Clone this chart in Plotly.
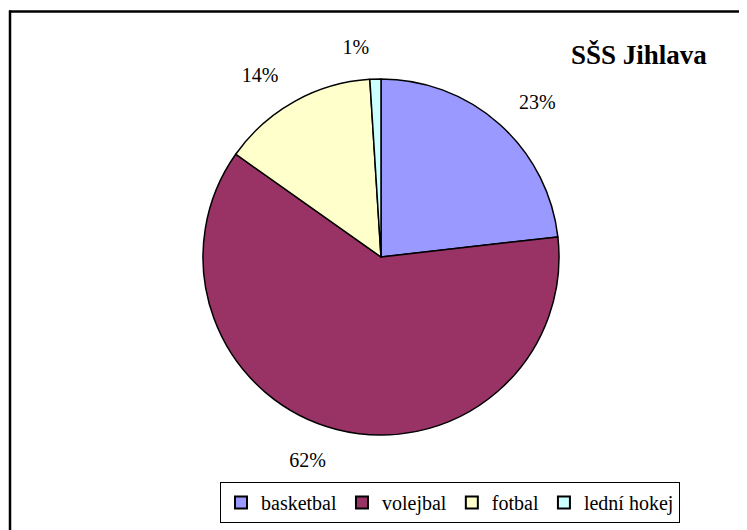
import plotly.graph_objects as go

# data
sports = ["basketbal", "volejbal", "fotbal", "lední hokej"]
shares = [23.2, 61.6, 14.2, 1.0]
colors = ["#9999FF", "#993366", "#FFFFCC", "#CCFFFF"]

W, H = 747, 530
font_family = "Liberation Serif, Times New Roman, serif"

# pie geometry in px (centre 373,249, radius 178)
cx, cy, r = 373, 249, 178
r_lab = 199  # labels sit a bit further out, like Excel


def dom(rad):
    return dict(x=[(cx - rad) / W, (cx + rad) / W],
                y=[1 - (cy + rad) / H, 1 - (cy - rad) / H])


fig = go.Figure()

# invisible larger pie that only carries the percent labels
fig.add_trace(go.Pie(
    labels=sports, values=shares, sort=False,
    direction="clockwise", rotation=0,
    marker=dict(colors=["rgba(0,0,0,0)"] * 4, line=dict(width=0)),
    textposition="outside",
    texttemplate="%{percent:.0%}",
    textfont=dict(family=font_family, size=20, color="black"),
    domain=dom(r_lab),
    hoverinfo="skip", showlegend=False,
))

fig.add_trace(go.Pie(
    labels=sports, values=shares, sort=False,
    direction="clockwise", rotation=0,
    marker=dict(colors=colors, line=dict(color="black", width=1.5)),
    textinfo="none",
    domain=dom(r),
    hoverinfo="label+percent",
))

fig.update_layout(
    width=W, height=H,
    margin=dict(l=0, r=0, t=0, b=0),
    paper_bgcolor="white",
    plot_bgcolor="white",
    font=dict(family=font_family, color="black"),
    showlegend=True,
    legend=dict(
        orientation="h",
        x=442 / W, xanchor="center",
        y=1 - 474 / H, yanchor="top",
        bordercolor="black", borderwidth=1,
        font=dict(family=font_family, size=20, color="black"),
        itemsizing="constant",
    ),
    annotations=[dict(
        text="<b>SŠS Jihlava</b>",
        x=631 / W, y=1 - 47 / H, xref="paper", yref="paper",
        xanchor="center", yanchor="middle", showarrow=False,
        font=dict(family=font_family, size=27, color="black"),
    )],
    shapes=[
        dict(type="line", xref="paper", yref="paper",
             x0=2 / W, x1=2 / W, y0=0, y1=1 - 2.5 / H,
             line=dict(color="black", width=2.5)),
        dict(type="line", xref="paper", yref="paper",
             x0=1 / W, x1=1, y0=1 - 3.5 / H, y1=1 - 3.5 / H,
             line=dict(color="black", width=2.5)),
    ],
)

fig.write_html("out.html")
